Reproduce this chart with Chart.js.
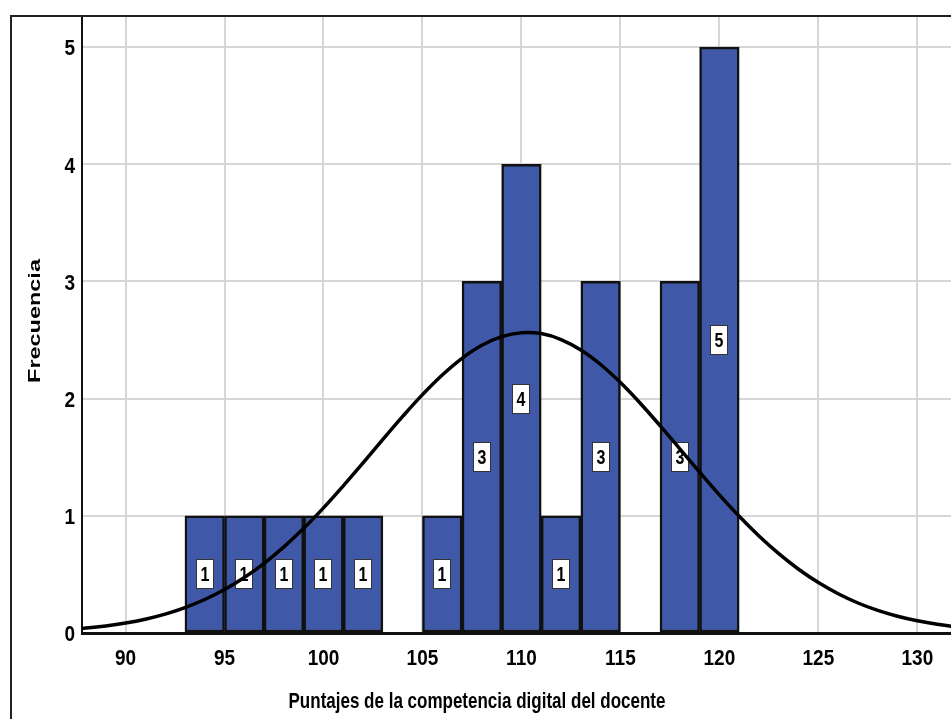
<!DOCTYPE html>
<html lang="es">
<head>
    <meta charset="UTF-8">
    <title>Histograma - Puntajes de la competencia digital del docente</title>
    <script src="https://cdn.jsdelivr.net/npm/chart.js"></script>
    <style>
        body {
            margin: 0;
            padding: 0;
            background: white;
            overflow: hidden;
        }
        .wrap {
            position: relative;
            width: 951px;
            height: 719px;
        }
    </style>
</head>
<body>
<div class="wrap">
    <canvas id="histChart" width="951" height="719"></canvas>
</div>

<script>
    // histogram bins (centres, width 2) and frequencies
    const binCenters = [94, 96, 98, 100, 102, 106, 108, 110, 112, 114, 118, 120];
    const counts = [1, 1, 1, 1, 1, 1, 3, 4, 1, 3, 3, 5];

    // normal curve
    const curveX = [87, 88, 89, 90, 91, 92, 93, 94, 95, 96, 97, 98, 99, 100, 101, 102, 103, 104, 105,
        106, 107, 108, 109, 110, 111, 112, 113, 114, 115, 116, 117, 118, 119, 120, 121, 122,
        123, 124, 125, 126, 127, 128, 129, 130, 131, 132];
    const curveY = [0.029, 0.042, 0.060, 0.085, 0.118, 0.161, 0.217, 0.286, 0.371, 0.474, 0.595, 0.735,
        0.893, 1.068, 1.256, 1.452, 1.652, 1.848, 2.034, 2.202, 2.344, 2.455, 2.529, 2.563,
        2.555, 2.504, 2.415, 2.291, 2.137, 1.961, 1.770, 1.572, 1.373, 1.179, 0.996, 0.828,
        0.677, 0.544, 0.430, 0.335, 0.256, 0.193, 0.143, 0.104, 0.074, 0.052];

    const xTicks = [90, 95, 100, 105, 110, 115, 120, 125, 130];
    const yTicks = [0, 1, 2, 3, 4, 5];
    const xTitle = "Puntajes de la competencia digital del docente";
    const yTitle = "Frecuencia";

    const barData = binCenters.map((c, i) => ({x: c, y: counts[i]}));
    const lineData = curveX.map((x, i) => ({x: x, y: curveY[i]}));

    const FONT = "Arial, 'Liberation Sans', sans-serif";

    // text in the original looks stretched vertically
    function tallText(ctx, txt, x, y, stretch) {
        ctx.save();
        ctx.translate(x, y);
        ctx.scale(1, stretch);
        ctx.fillText(txt, 0, 0);
        ctx.restore();
    }

    const frameAndLabels = {
        id: "frameAndLabels",
        afterDatasetDraw(chart, args) {
            if (args.index !== 0) return;
            const ctx = chart.ctx;
            const xs = chart.scales.x, ys = chart.scales.y;
            ctx.save();
            ctx.font = "bold 16px " + FONT;
            ctx.textAlign = "center";
            ctx.textBaseline = "middle";
            binCenters.forEach((c, i) => {
                const px = Math.round(xs.getPixelForValue(c));
                const py = Math.round(ys.getPixelForValue(counts[i] / 2));
                ctx.fillStyle = "white";
                ctx.fillRect(px - 9, py - 15, 18, 30);
                ctx.strokeStyle = "#333";
                ctx.lineWidth = 1;
                ctx.strokeRect(px - 9 + 0.5, py - 15 + 0.5, 17, 29);
                ctx.fillStyle = "black";
                tallText(ctx, String(counts[i]), px, py + 1, 1.3);
            });
            ctx.restore();
        },
        afterDraw(chart) {
            const ctx = chart.ctx;
            const xs = chart.scales.x, ys = chart.scales.y;
            ctx.save();
            // outer frame
            ctx.strokeStyle = "#222";
            ctx.lineWidth = 2;
            ctx.beginPath();
            ctx.moveTo(11, 719);
            ctx.lineTo(11, 16);
            ctx.lineTo(951, 16);
            ctx.stroke();

            ctx.fillStyle = "black";
            ctx.textBaseline = "middle";
            // tick labels
            ctx.font = "bold 19px " + FONT;
            ctx.textAlign = "center";
            xTicks.forEach(v => tallText(ctx, String(v), xs.getPixelForValue(v), 659, 1.2));
            ctx.textAlign = "right";
            yTicks.forEach(v => tallText(ctx, String(v), 75, ys.getPixelForValue(v) + 2, 1.2));

            // axis titles
            ctx.font = "bold 17px " + FONT;
            ctx.textAlign = "center";
            tallText(ctx, xTitle, 477, 702, 1.3);
            ctx.translate(35, 321);
            ctx.rotate(-Math.PI / 2);
            ctx.scale(1.38, 1);
            ctx.fillText(yTitle, 0, 0);
            ctx.restore();
        }
    };

    new Chart(document.getElementById("histChart").getContext("2d"), {
        type: "bar",
        data: {
            datasets: [
                {
                    type: "bar",
                    data: barData,
                    backgroundColor: "#3F59A8",
                    borderColor: "#111",
                    borderWidth: 2.5,
                    borderSkipped: false,
                    categoryPercentage: 1.0,
                    barPercentage: 1.0,
                    order: 2
                },
                {
                    type: "line",
                    data: lineData,
                    borderColor: "black",
                    borderWidth: 3.5,
                    pointRadius: 0,
                    tension: 0.4,
                    fill: false,
                    order: 1
                }
            ]
        },
        options: {
            responsive: false,
            animation: false,
            layout: {padding: {left: 0, top: 16, right: 0, bottom: 0}},
            plugins: {
                legend: {display: false},
                tooltip: {enabled: false}
            },
            scales: {
                x: {
                    type: "linear",
                    min: 87.8,
                    max: 131.7,
                    offset: false,
                    afterBuildTicks: (s) => { s.ticks = xTicks.map(v => ({value: v})); },
                    afterFit: (s) => { s.height = 86; },
                    grid: {color: "#d6d6d6", lineWidth: 2, drawTicks: false, offset: false},
                    border: {color: "#111", width: 3},
                    ticks: {display: false}
                },
                y: {
                    min: 0,
                    max: 5.265,
                    afterBuildTicks: (s) => { s.ticks = yTicks.map(v => ({value: v})); },
                    afterFit: (s) => { s.width = 82; },
                    grid: {color: "#d6d6d6", lineWidth: 2, drawTicks: false},
                    border: {color: "#111", width: 2},
                    ticks: {display: false}
                }
            }
        },
        plugins: [frameAndLabels]
    });
</script>
</body>
</html>
